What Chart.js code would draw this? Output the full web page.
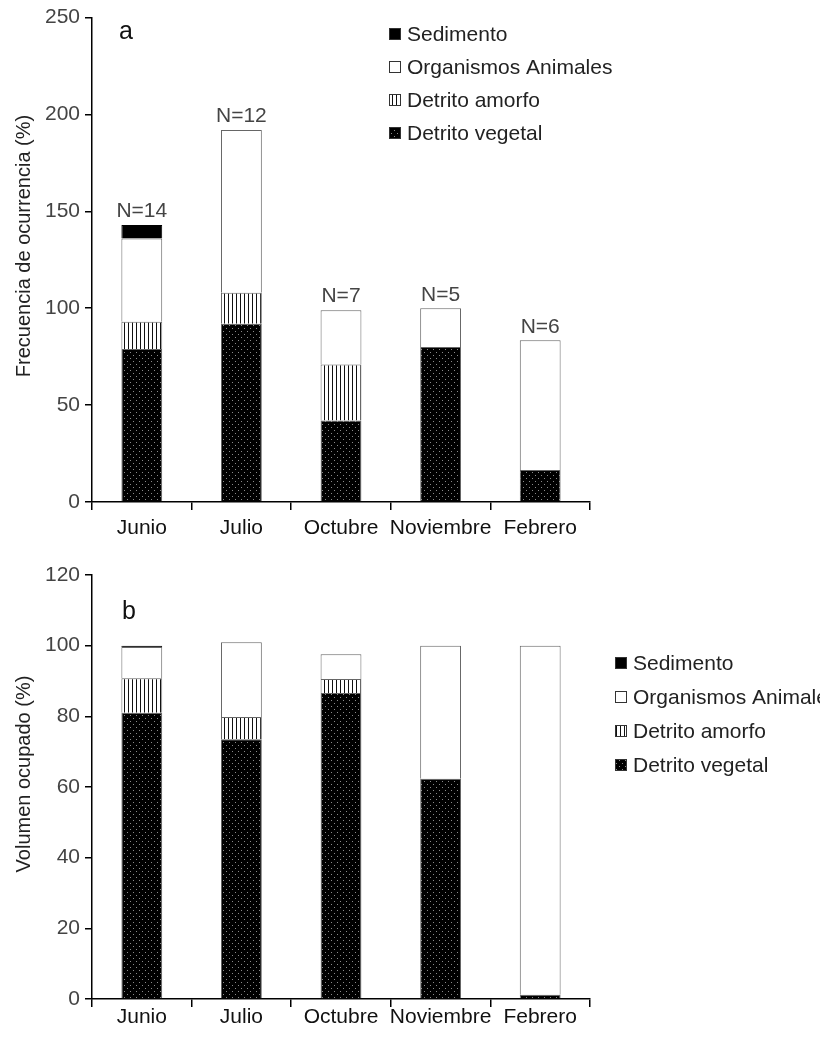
<!DOCTYPE html>
<html>
<head>
<meta charset="utf-8">
<script src="https://cdn.jsdelivr.net/npm/chart.js@4/dist/chart.umd.min.js"></script>
<style>
  body { margin: 0; background: #fff; }
  #wrap { position: relative; width: 820px; height: 1040px; }
  canvas { position: absolute; left: 0; }
</style>
</head>
<body>
<div id="wrap">
  <canvas id="chartA" width="820" height="555" style="top:0;width:820px;height:555px"></canvas>
  <canvas id="chartB" width="820" height="485" style="top:555px;width:820px;height:485px"></canvas>
</div>
<script>
// datos
const meses = ['Junio', 'Julio', 'Octubre', 'Noviembre', 'Febrero'];
const nMuestras = ['N=14', 'N=12', 'N=7', 'N=5', 'N=6'];

// a) frecuencia de ocurrencia (%)
const frecVegetal = [79, 92, 42, 80, 16.5];
const frecAmorfo = [14, 16, 29, 0, 0];
const frecAnimales = [43, 84, 28, 20, 67];
const frecSedimento = [7, 0, 0, 0, 0];

// b) volumen ocupado (%)
const volVegetal = [81, 73.5, 86.6, 62.3, 1.2];
const volAmorfo = [9.8, 6.3, 4, 0, 0];
const volAnimales = [8.8, 21.2, 7, 37.7, 98.8];
const volSedimento = [0.4, 0, 0, 0, 0];

const fuente = '"Liberation Sans Narrow", "Arial Narrow", "Liberation Sans", Arial, sans-serif';
Chart.defaults.font.family = fuente;

// tramas de relleno
function trama(w, h, dibujar) {
  const c = document.createElement('canvas');
  c.width = w; c.height = h;
  dibujar(c.getContext('2d'));
  return c.getContext('2d').createPattern(c, 'repeat');
}
const puntos = trama(6, 6, g => {
  g.fillStyle = '#000'; g.fillRect(0, 0, 6, 6);
  g.fillStyle = '#8a8a8a'; g.fillRect(1, 1, 1, 1); g.fillRect(4, 4, 1, 1);
});
const rayas = trama(4, 4, g => {
  g.fillStyle = '#fff'; g.fillRect(0, 0, 4, 4);
  g.fillStyle = '#111'; g.fillRect(0, 0, 1, 4);
});

function series(veg, amo, ani, sed) {
  const base = { borderColor: '#666', borderWidth: 1, barPercentage: 0.41, categoryPercentage: 1 };
  return [
    { ...base, label: 'Detrito vegetal', data: veg, backgroundColor: puntos },
    { ...base, label: 'Detrito amorfo', data: amo, backgroundColor: rayas },
    { ...base, label: 'Organismos Animales', data: ani, backgroundColor: '#fff' },
    { ...base, label: 'Sedimento', data: sed, backgroundColor: '#000', borderColor: '#000' }
  ];
}

// leyenda, letra del panel, titulo del eje y etiquetas N
const extras = {
  id: 'extras',
  afterDraw(chart, args, o) {
    const ctx = chart.ctx;
    ctx.save();
    ctx.textBaseline = 'middle';
    ctx.textAlign = 'left';
    // leyenda
    const ds = chart.data.datasets.slice().reverse();
    ds.forEach((d, i) => {
      const cy = o.legY + i * o.legDy;
      ctx.fillStyle = d.backgroundColor;
      ctx.fillRect(o.legX, cy - 6, 12, 12);
      ctx.strokeStyle = '#333';
      ctx.lineWidth = 1;
      ctx.strokeRect(o.legX + 0.5, cy - 5.5, 11, 11);
      ctx.fillStyle = '#222';
      ctx.font = '21px ' + fuente;
      ctx.fillText(d.label, o.legX + 18, cy + 1);
    });
    // letra
    ctx.fillStyle = '#111';
    ctx.font = '25px ' + fuente;
    ctx.fillText(o.letra, o.letraX, o.letraY);
    // titulo eje y
    ctx.save();
    ctx.translate(24, o.tituloY);
    ctx.rotate(-Math.PI / 2);
    ctx.textAlign = 'center';
    ctx.fillStyle = '#222';
    ctx.font = '20px ' + fuente;
    ctx.fillText(o.titulo, 0, 0);
    ctx.restore();
    // N
    if (o.nombres) {
      const x = chart.scales.x, y = chart.scales.y;
      ctx.textAlign = 'center';
      ctx.textBaseline = 'bottom';
      ctx.fillStyle = '#444';
      ctx.font = '21px ' + fuente;
      o.nombres.forEach((t, i) => {
        const total = chart.data.datasets.reduce((s, d) => s + d.data[i], 0);
        ctx.fillText(t, x.getPixelForValue(i), y.getPixelForValue(total) - 3);
      });
    }
    ctx.restore();
  }
};

function opciones(max, paso, altoX, padX, extra) {
  return {
    responsive: false,
    animation: false,
    layout: { padding: { top: extra.top, right: 230, left: 0, bottom: 0 } },
    plugins: { legend: { display: false }, tooltip: { enabled: false }, extras: extra },
    scales: {
      x: {
        stacked: true,
        grid: { offset: true, drawOnChartArea: false, tickLength: 8, color: '#000', lineWidth: 1.5 },
        border: { color: '#000', width: 1.5 },
        ticks: { color: '#111', font: { size: 21 }, padding: padX, maxRotation: 0, minRotation: 0, autoSkip: false },
        afterFit: s => { s.height = altoX; }
      },
      y: {
        stacked: true,
        min: 0, max: max,
        ticks: { stepSize: paso, color: '#444', font: { size: 21 }, padding: 5 },
        grid: { drawOnChartArea: false, tickLength: 7, color: '#000', lineWidth: 1.5 },
        border: { color: '#000', width: 1.5 },
        afterFit: s => { s.width = 92; }
      }
    }
  };
}

new Chart(document.getElementById('chartA'), {
  type: 'bar',
  data: { labels: meses, datasets: series(frecVegetal, frecAmorfo, frecAnimales, frecSedimento) },
  options: opciones(250, 50, 53, 6,
    { top: 16, legX: 389, legY: 34, legDy: 33, letra: 'a', letraX: 119, letraY: 32,
      titulo: 'Frecuencia de ocurrencia (%)', tituloY: 246, nombres: nMuestras }),
  plugins: [extras]
});

new Chart(document.getElementById('chartB'), {
  type: 'bar',
  data: { labels: meses, datasets: series(volVegetal, volAmorfo, volAnimales, volSedimento) },
  options: opciones(120, 20, 41, -2,
    { top: 20, legX: 615, legY: 108, legDy: 34, letra: 'b', letraX: 122, letraY: 57,
      titulo: 'Volumen ocupado (%)', tituloY: 219, nombres: null }),
  plugins: [extras]
});
</script>
</body>
</html>
